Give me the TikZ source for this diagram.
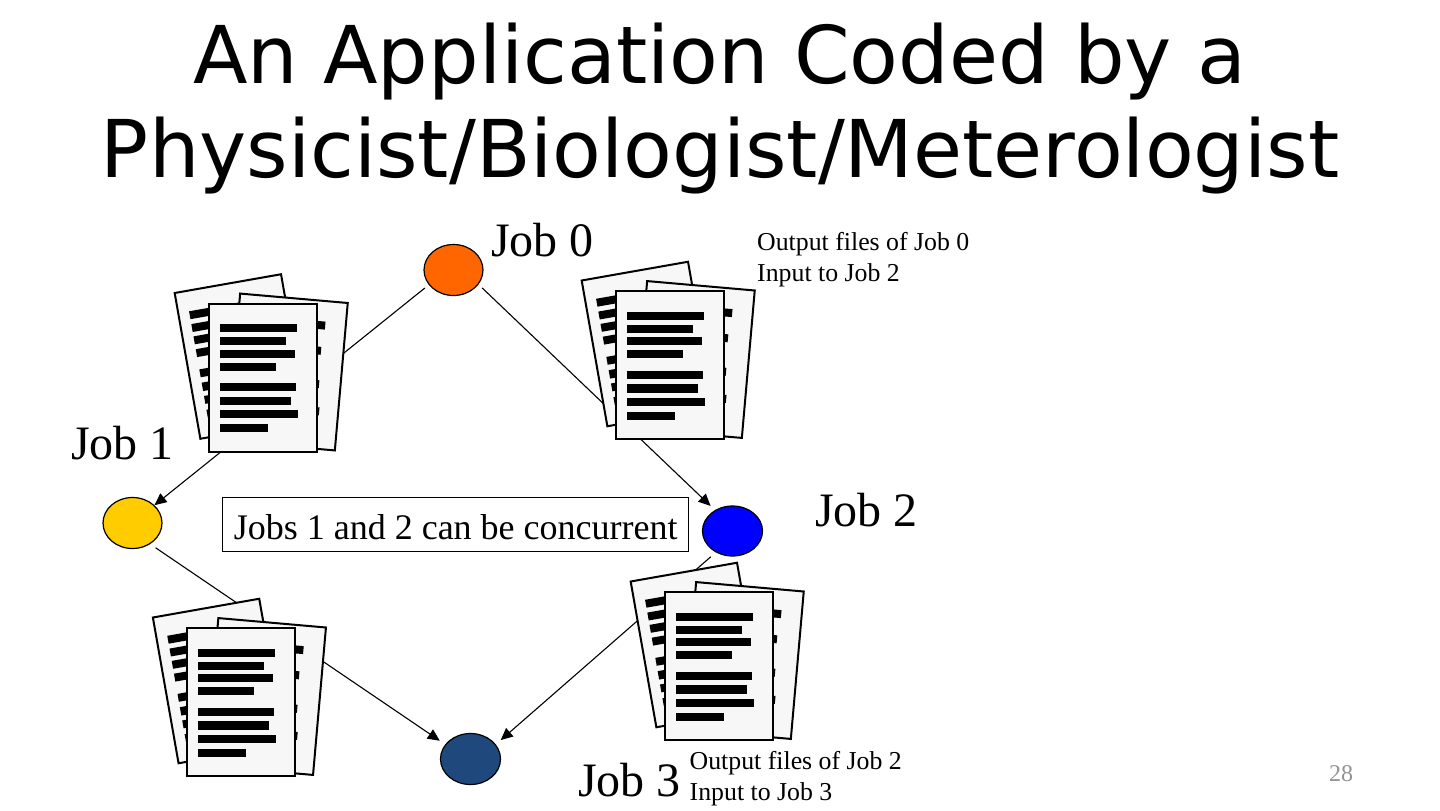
\documentclass[tikz,border=0pt]{standalone}
\usepackage{fontspec}
\setmainfont{Liberation Serif}
\newfontfamily\titlefont{DejaVu Sans}
\usetikzlibrary{shapes.geometric,arrows.meta}
\definecolor{pagefill}{HTML}{F7F7F7}
\tikzset{
  x=1pt,y=-1pt,
  job/.style={ellipse,draw=black,line width=1.2pt,inner sep=0pt,minimum width=#1},
  arr/.style={draw=black,line width=1.1pt,-{Triangle[length=12pt,width=11pt]}},
  joblabel/.style={font=\fontsize{48}{54}\selectfont,inner sep=0pt,anchor=west},
  note/.style={font=\fontsize{25.8}{31.5}\selectfont,inner sep=0pt,align=left,anchor=north west},
  titleline/.style={font=\titlefont\fontsize{79.7}{96}\selectfont,inner sep=0pt,anchor=center},
  sheet/.style={draw=black,fill=pagefill,line width=2pt},
  pics/page/.style={code={
    \draw[sheet] (-54,-74) rectangle (54,74);
    \fill[black] (-43,-53.5) rectangle (33.5,-45.5);
    \fill[black] (-43,-40.5) rectangle (23,-32.5);
    \fill[black] (-43,-28) rectangle (31.5,-20);
    \fill[black] (-43,-15) rectangle (13,-7);
    \fill[black] (-43,5.5) rectangle (32.5,13.5);
    \fill[black] (-43,19) rectangle (28,27.5);
    \fill[black] (-43,32.5) rectangle (35,40.5);
    \fill[black] (-43,46.5) rectangle (5,54.5);
  }},
  pics/pile/.style={code={
    \pic[rotate=10] at (-22.5,-21) {page};
    \pic[rotate=-5] at (24.3,-5.5) {page};
    \pic at (0,0) {page};
  }}
}
\begin{document}
\begin{tikzpicture}
\useasboundingbox (0,0) rectangle (1440,811);
\fill[white] (0,0) rectangle (1440,811);
\node[titleline] (t1) at (719.5,62) {An Application Coded by a};
\node[titleline] (t2) at (720,156) {Physicist/Biologist/Meterologist};

\node[job=59pt,minimum height=51pt,fill={rgb,255:red,255;green,102;blue,0}] (j0) at (453.5,270) {};
\node[job=59pt,minimum height=51pt,fill={rgb,255:red,255;green,204;blue,0}] (j1) at (132.5,523) {};
\node[job=60pt,minimum height=50pt,fill={rgb,255:red,0;green,0;blue,255}] (j2) at (732.5,531) {};
\node[job=60pt,minimum height=51pt,fill={rgb,255:red,31;green,73;blue,125}] (j3) at (470.5,759) {};

\draw[arr,shorten <=5pt] (j0.211) -- (j1.39);
\draw[arr,shorten <=5pt,shorten >=6pt] (j0.330) -- (j2.130);
\draw[arr,shorten <=6.5pt,shorten >=6.5pt] (j1.310) -- (j3.150);
\draw[arr,shorten <=6.5pt,shorten >=6.5pt] (j2.232) -- (j3.30);

\pic at (263.2,377.5) {pile};
\pic at (670.2,365) {pile};
\pic at (719.2,666) {pile};
\pic at (241.4,702) {pile};

\node[joblabel] (l0) at (491,240) {Job 0};
\node[joblabel] (l1) at (71,443) {Job 1};
\node[joblabel] (l2) at (815,510) {Job 2};
\node[joblabel] (l3) at (578,780) {Job 3};

\node[note] (n0) at (757,232) {Output files of Job 0\\Input to Job 2};
\node[note] (n2) at (689.5,751) {Output files of Job 2\\Input to Job 3};

\node[draw=black,line width=1.3pt,fill=white,font=\fontsize{36}{40}\selectfont,text height=37pt,text depth=8pt,minimum width=466pt,minimum height=54pt,inner sep=0pt] (box) at (455.7,524.5) {Jobs 1 and 2 can be concurrent};

\node[font=\fontsize{24}{28}\selectfont,text=gray!85,inner sep=0pt] (num) at (1341,774) {28};
\end{tikzpicture}
\end{document}
